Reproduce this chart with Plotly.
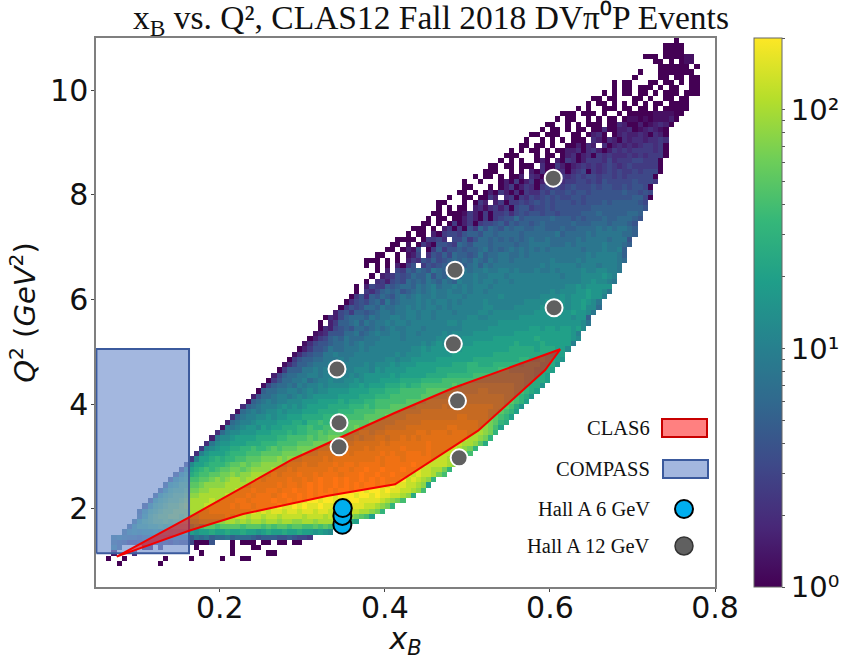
import plotly.graph_objects as go

# Histogram rows. Each cell letter is log10(count) * 10:
# a = 0 (1 event) ... x = 23 (200 events). "." = empty bin; spaces only group cells in tens.
X_BIN_START = 0.05
X_BIN_WIDTH = 0.00625
Q2_BIN_START = 0.5
Q2_BIN_WIDTH = 0.1
FIRST_ROW = 4
ROW_START = [4, 2, 3, 3, 3, 3, 5, 6, 7, 8, 8, 9, 10, 11, 12, 13, 14, 15, 16, 17, 18, 19, 20, 21, 22, 23, 24, 25, 26,
             27, 28, 29, 30, 31, 32, 33, 34, 35, 36, 37, 38, 39, 40, 41, 42, 43, 43, 44, 46, 47, 48, 49, 50, 50, 52,
             53, 53, 52, 52, 54, 56, 57, 58, 60, 61, 63, 64, 65, 66, 66, 68, 70, 71, 71, 73, 75, 76, 78, 79, 80, 82,
             83, 84, 86, 87, 89, 90, 93, 95, 96, 98, 100, 100, 104, 105, 109, 108, 106, 110, 110, 112]
ROW_CELLS = [
    "a.......a",
    "a..a.......a....a.....a...aa",
    "b...d............a.....a......aa",
    "kh....aa.e......a......a...aa",
    "ihgeefgfeefegfffaaag...a.aaa.aa.aa.aa",
    "jkjiihijij ihiiihjijh iijhiiihgh hhgghgffe",
    "ilmlmmnmnm nmnnmnnonn onnonnmnon nonnonnmnm l",
    "hmooppqpqq qqqrqrrqrr rrqrrrqrqr rqrrqqrqrq ol",
    "inpqrrsrss ssstttttuu tutuutuutu uttuutuuut rqon",
    "inqrssttst ttuuuuuvuv vuvvuvvuvv vvuvvvuvuv utsrqn",
    "hmpqrssttt uuuuvvvvvv vvwvwvwwvw wvwwvwwvvw vvvuutsp",
    "gmpqrsstuu uuvvvvvwvw wvwwwwxwwx wxwwxwwwxw wwwvvutsp",
    "gnpqrrstuu uuvuvvvwwv wwwwxwwxwx wxxwxxwxwx xwwwwvutsq",
    "hnpqrrsttu uuuuvvvvwv wwwvwxwwxw xwxxxwxxxw xxwxwwvvut o",
    "hmpqqrsstt uuuuuvvvwv vwwvwwxwwx wxwxwxxwxx wxxwxwwvvu tq",
    "hnoqqrrstt ttuuuuuvvv vvwvwwvwxw xwwxwxwxwx xwxwxwwvvu tn",
    "gmopqqrrst stuutuuvuv vvvwvvwvwx wwxwxwwxwx wxwwwxvwvu tp",
    "gmoopqqrrs ststtuuuuv uvvvwvvwvw wwvwwwxwwx wwxwwwvwvv usq",
    "fmnopqpqrr ssrsttttuu uvuvvvvvvw vwwvwwxwwx wwwxwwwvvu usp",
    "flnnopppqr rsrssttttt uuuvuuvvvw vwwvwwwwvw wwwwxwwvvv vuto",
    "eknnopoppq qrrrssstst ttuuuuvuvv vvvvvvwvww wvwwwwwvvv uuur",
    "dkmnnnoppp qqqrrrrsss stttuuuuuv uvvvvvwvwv vwwwvwvvvv uutq",
    "eklmnnoopp qppqrqrrrs sssttttuuu uuvuvvvvvw vvvvwvvvvv utsp",
    "djlmmnnnoo opppqqqqrr rssssstttu uuuuvuvvvv vvvwvvvvvv uutro",
    "cjllmnnnno oooppqqqqr qrrsssssts ttuutuuvuv uvvvvvvvvv uutsp",
    "dikllmmmnn nooopoppqq rqrrrrsstt sttuuuuuuv vuvvvuvvvu uutsp",
    "bjjklmmlnm nnoooppqpp qqqrrrsrss ssttttuuuu uuuuvvuuuu ttsqn",
    "cijkklmmmm nnnoonppqp pqqqrrrrss ssstttttuu uuuuuuuuut tsrpo",
    "dhjkkllmlm mnnnoooopp qpqqqqrrrr sssstttttt ttttuutttt srqpn",
    "bijkjkllml mmmnnnoooo pppqqqqrrr rrsssstttt ttttttttts srqpn",
    "dhijkkklml mlmnnnnooo opppqpqqqr rrrrssssst stttttttts srqom",
    "bhijkjkkll lmmmnnnnon oooppqqqqq qrrrrsssss ssssssssss rrqpn",
    "cgiijkkjkl klmmmmmnnn nooopppqqq qqqrrrrrss sssssssssr rqpom",
    "ahiijjkkjk lkllmmmmnn nnooopppqq qqqrrrrrrr rrrssrrrrr qqpon",
    "bfhiijikjk klkllllmmn mnnnooopop pqqqqqqrqr rrrrrrrrrq qpoom",
    "aegiijjkij kklkkllmlm mmnnnnoooo ppppqqqqqq qqqqqqqqqq ppoon",
    "cfhiijjkkj kkklklklmm mmmnmnnnnn oooopppppq qqqqqqqqqp poon",
    "aehhhjjkjk kkkkklllkm lmmmmnnnnn nooooooppp pppqqppppp ooon",
    "bdfhhijjjk jkkkkklkll lmlmmmnnnn nnnoooppoo opppppoppp ooom",
    "aeghhiijjj kjkkkkkkkl lkllmmmmmn nnnnnnoooo oooooppoop oonm",
    "bdfghhjjkj jjkkkkkkkk lklllmmmmm mnnnnnnnno oooooooooo nnn",
    "acegghjiij jjkjkkkkkk kkllmlmmmm mmnnnnnnnn nooooonooo nnl",
    "bdfgghiiji jkjjkkkkkk kkklklmlmm mmmnnnnnnn nonnnnonnn nnk",
    "acefhihjii ijjjkkkkjk kkkkklllll mmmmmmnnnn nnnnonnnnn nml",
    "bcdgggiijh ijkjjkkjkk jkkkklklll lmmmmmmmmn nnnnnnnnnn mk",
    "adcfghgiih ijijkjjkkk jkkkkkkkll lllmmmmmmm mnnmnnmnnm nl",
    "a.cehhijhj ijjkjkkjkk kkkkkllkll lllllmmmmm mmmmmmmmmm mlj",
    "adcfhiiihj ijjkkjkkjk kjkkkkkkll kkllllllmm mmmmmmmmlm mh",
    "cfgehhghij jijjkkjkkj kkkjkkkkll kllllllllm mmmlmmnmml j",
    "aegfgiihji ijjkjkjkkj kjkkkkkkll kkkklllllm llmmlmmnll i",
    "adfgfhigjh ijjjkjkjkk jkjkkkklkk kkkkkllllm lmmlmmnmlj",
    "aegdhgihgi jijkjjkjjk kkjkkkkkkl kkkkkkklll lmlmmmnmmk",
    "a.edfhihig hijijkjjkj jkjkkjkkkk kkkkkkkklk lllmmnmmlj",
    "a.cfeehghi ihjijkijjk jkjkkkjkkk kkkkkkkkkk kllmlmmmmm",
    "a.decfgfih ihjihjihkj jkjkkjkkjk kkkkkkkkkk kkllmllkj",
    "a.cdegfgih hjgihjkijj kjjkkkjkkk kkkkkkkjkk kllllmlk",
    ".a.c.fehgi hgjihjkjji jjkjjkkjkj jjkjjkjkkk klkkllkkj",
    "a.a.a.caeg .egfghhiih ijhjijjjjj jjjjkjkkkk kjkkkjkkkj",
    "aaa.a.a.ce dgfhfghihi hjihjijjij jjjjjjkjjj jkjkkkkkkj i",
    "aa..a.bcf. dgfhfihhgh jhiijjiiji jjjjjjjjjj jkjkkkkjh",
    "aa.acbg.ae hegghghhij hihijijiji jijjjjjjij jjkjjkh",
    "aa.b.aecag gfeihgiiih iiiihiijjj jiiijijjjj jkjjjih",
    "aaaa.aeefd .ffhegiihi hihihijiij iiiiijijjj jijjjg",
    "a.aa.caeff eghhgiihii iihiiiiiij hiiiijijjj jjiih",
    "aaa.a.ceae ageigihgih iihhiihhhi hhiiiijiji jjih",
    "aa.a.aeace aeffghfhgh hghihhhhhi hhhiiihiii hg",
    "a.aa.aacec aeaefggigh hhhhihhhgh ghhhihhiii hg",
    "aa.aaabeca eaeefdfgfg gfggfggggh hhihhhhhii h",
    "a.a.aa.cdb deceafggef fgfggggggg hhhhhhhhhh g",
    "aa...a.aec .ceaeefefg fgfgggfgfg gghghhhhhg f",
    "a..aa.aaec .deaedfefg fgffggfggg gggggghhfa",
    "aa.a.acaec adaeddfegf fgfggfgggg gghggfgf",
    "aa...a.ace acedaefefe fgfffgfggf fgfggfa",
    "a..a...aca eaceacedfd eeffefegff fffgfffe",
    "a.aa.a.aac .dcaeceede feffeffefe fffffa",
    "aaa..a.a.c adaecdadef aedefefeef efffa",
    "aa.aa.aaa. daaecacded edefedefee eeea",
    "a.a.a..aca .caedaceee dfdeeeffee ea",
    "aaa...a.aa .acdacdaed edddededee ea",
    "a.a.aa.a.a accdadecac ededeeeede a",
    "aa.aa.a..a acadc.dacd cdcdeedea",
    "a..a.a.a.a aa.dcadcad cddcdded",
    "aa.aaa..aa .acda.acdc cdcadca",
    "a.aa.a.aa. aadaaccdab cdcba",
    "aa..a.a.aa a.aadcaaca bcdca",
    "a.aa..a.a. aa.abbabab bbca",
    "aaa.aaa.a. .a.aaaaabb bbaa",
    "a.a..aaa.a a.aa.a.aaa aa",
    "a.aa.a.a.a .a.aa.aaaa",
    "aa.aa...aa .a..aa.aa",
    "a.a.aa.aa. a.aaa.aaa",
    "a.aa.aaa.a .aa..aa",
    "a.aa...aa. aa.a.aa",
    "a....aa.aa .aa",
    "a...aaaaaa a",
    "aaaaaa.a",
    "aa.a.abb",
    "aaa.aaaabb",
    "aaaa",
    "aaaa",
    "a",
]
N_X_BINS = 120
N_Q2_BINS = 105

# Experiment coverage and points
CLAS6_X = [0.0751, 0.1627, 0.2888, 0.3458, 0.4124, 0.4827, 0.6124, 0.5942, 0.513, 0.4124, 0.378, 0.3296, 0.2282, 0.1627, 0.0751]
CLAS6_Q2 = [1.08, 1.833, 2.948, 3.355, 3.833, 4.306, 5.046, 4.65, 3.49, 2.464, 2.374, 2.24, 1.896, 1.577, 1.08]
COMPASS_X = [0.0505, 0.1627, 0.1627, 0.0505, 0.0505]
COMPASS_Q2 = [1.144, 1.144, 5.05, 5.05, 1.144]
HALL_A_6_X = [0.3485, 0.3485, 0.349]
HALL_A_6_Q2 = [1.69, 1.86, 2.01]
HALL_A_12_X = [0.604, 0.485, 0.605, 0.342, 0.483, 0.488, 0.3445, 0.3445, 0.49]
HALL_A_12_Q2 = [8.32, 6.56, 5.84, 4.67, 5.15, 4.06, 3.64, 3.18, 2.97]

X_TICKS = [0.2, 0.4, 0.6, 0.8]
Q2_TICKS = [2, 4, 6, 8, 10]
CB_MAJOR = {0: "10\u2070", 1: "10\u00b9", 2: "10\u00b2"}
CB_MINOR = [0.30103, 0.47712, 0.60206, 0.69897, 0.77815, 0.84510, 0.90309, 0.95424,
            1.30103, 1.47712, 1.60206, 1.69897, 1.77815, 1.84510, 1.90309, 1.95424, 2.30103]
LEGEND_LABELS = ["CLAS6", "COMPASS", "Hall A 6 GeV", "Hall A 12 GeV"]

TITLE = "x<sub>B</sub> vs. Q\u00b2, CLAS12 Fall 2018 DV\u03c0\u2070P Events"

z = [[None] * N_X_BINS for _ in range(N_Q2_BINS)]
for row, (start, cells) in enumerate(zip(ROW_START, ROW_CELLS), FIRST_ROW):
    for offset, cell in enumerate(cells.replace(" ", "")):
        col = start + offset
        if cell != "." and col < N_X_BINS and row < N_Q2_BINS:
            z[row][col] = (ord(cell) - ord("a")) / 10

AXIS_W, AXIS_H = 619, 549
ML, MT = 96, 38
def px(x): return (x - ML) / AXIS_W
def py(y): return (MT + AXIS_H - y) / AXIS_H

fig = go.Figure()
fig.add_trace(go.Heatmap(
    z=z, x0=X_BIN_START + X_BIN_WIDTH / 2, dx=X_BIN_WIDTH,
    y0=Q2_BIN_START + Q2_BIN_WIDTH / 2, dy=Q2_BIN_WIDTH,
    colorscale="Viridis", zmin=0, zmax=2.30103, hoverongaps=False,
    colorbar=dict(
        x=px(754), xanchor="left", xpad=0, y=0.5, yanchor="middle", ypad=0,
        thickness=28, thicknessmode="pixels", len=1, lenmode="fraction",
        outlinecolor="#666", outlinewidth=1,
        tickmode="array",
        tickvals=list(CB_MAJOR) + CB_MINOR,
        ticktext=list(CB_MAJOR.values()) + [""] * len(CB_MINOR),
        ticks="outside", ticklen=3, tickcolor="#555", tickwidth=1,
        tickfont=dict(family="DejaVu Sans", size=29, color="#111"),
    ),
))
fig.add_trace(go.Scatter(x=COMPASS_X, y=COMPASS_Q2, mode="lines", fill="toself",
                         fillcolor="rgba(124,153,209,0.7)", line=dict(color="#3b5a9d", width=2),
                         name="COMPASS", showlegend=False))
fig.add_trace(go.Scatter(x=CLAS6_X, y=CLAS6_Q2, mode="lines", fill="toself",
                         fillcolor="rgba(255,0,0,0.5)", line=dict(color="#f40000", width=2),
                         name="CLAS6", showlegend=False))
fig.add_trace(go.Scatter(x=HALL_A_12_X, y=HALL_A_12_Q2, mode="markers", name="Hall A 12 GeV", showlegend=False,
                         marker=dict(size=17, color="#606060", line=dict(color="white", width=2))))
fig.add_trace(go.Scatter(x=HALL_A_6_X, y=HALL_A_6_Q2, mode="markers", name="Hall A 6 GeV", showlegend=False,
                         marker=dict(size=18, color="#00aeef", line=dict(color="black", width=2))))

legend_y = [428, 469, 509, 546]
annotations = [dict(text=t, x=px(652), y=py(yy), xref="paper", yref="paper", xanchor="right", yanchor="middle",
                    showarrow=False, font=dict(family="Liberation Serif", size=20.5, color="#111"))
               for t, yy in zip(LEGEND_LABELS, legend_y)]
shapes = [
    dict(type="rect", xref="paper", yref="paper", x0=px(662), x1=px(707), y0=py(437), y1=py(419),
         fillcolor="#ff8080", line=dict(color="#c80000", width=2)),
    dict(type="rect", xref="paper", yref="paper", x0=px(663), x1=px(708), y0=py(478), y1=py(460),
         fillcolor="#a3b7df", line=dict(color="#3b5a9d", width=2)),
    dict(type="circle", xref="paper", yref="paper", x0=px(675), x1=px(693), y0=py(518), y1=py(500),
         fillcolor="#00aeef", line=dict(color="black", width=2)),
    dict(type="circle", xref="paper", yref="paper", x0=px(675), x1=px(693), y0=py(555), y1=py(537),
         fillcolor="#606060", line=dict(color="#333", width=1.5)),
]

axis_common = dict(showgrid=False, zeroline=False, showline=True, mirror=True, linecolor="#7f7f7f", linewidth=1.5,
                   ticks="outside", ticklen=3, tickcolor="#444", tickwidth=1,
                   tickfont=dict(family="DejaVu Sans", size=30, color="#111"))
fig.update_layout(
    width=843, height=660, paper_bgcolor="white", plot_bgcolor="white", showlegend=False,
    margin=dict(l=ML, r=843 - ML - AXIS_W, t=MT, b=660 - MT - AXIS_H, autoexpand=False),
    title=dict(text=TITLE, x=431 / 843, xanchor="center", y=1 - 17 / 660, yanchor="middle",
               font=dict(family="Liberation Serif", size=33.5, color="#111")),
    xaxis=dict(range=[0.05, 0.8], tickvals=X_TICKS, tickformat=".1f", ticklabelstandoff=-10,
               title=dict(text="<i>x</i><sub><i>B</i></sub>", standoff=4,
                          font=dict(family="DejaVu Sans", size=30, color="#111")), **axis_common),
    yaxis=dict(range=[0.5, 11], tickvals=Q2_TICKS, ticklabelstandoff=-3,
               title=dict(text="<i>Q</i><sup>2</sup> (<i>GeV</i><sup>2</sup>)", standoff=6,
                          font=dict(family="DejaVu Sans", size=29, color="#111")), **axis_common),
    annotations=annotations, shapes=shapes,
)
# The page's default 8px body margin would otherwise shift the whole figure.
fig.write_html("out.html", config={"displayModeBar": False},
               post_script="document.body.style.margin='0';")
